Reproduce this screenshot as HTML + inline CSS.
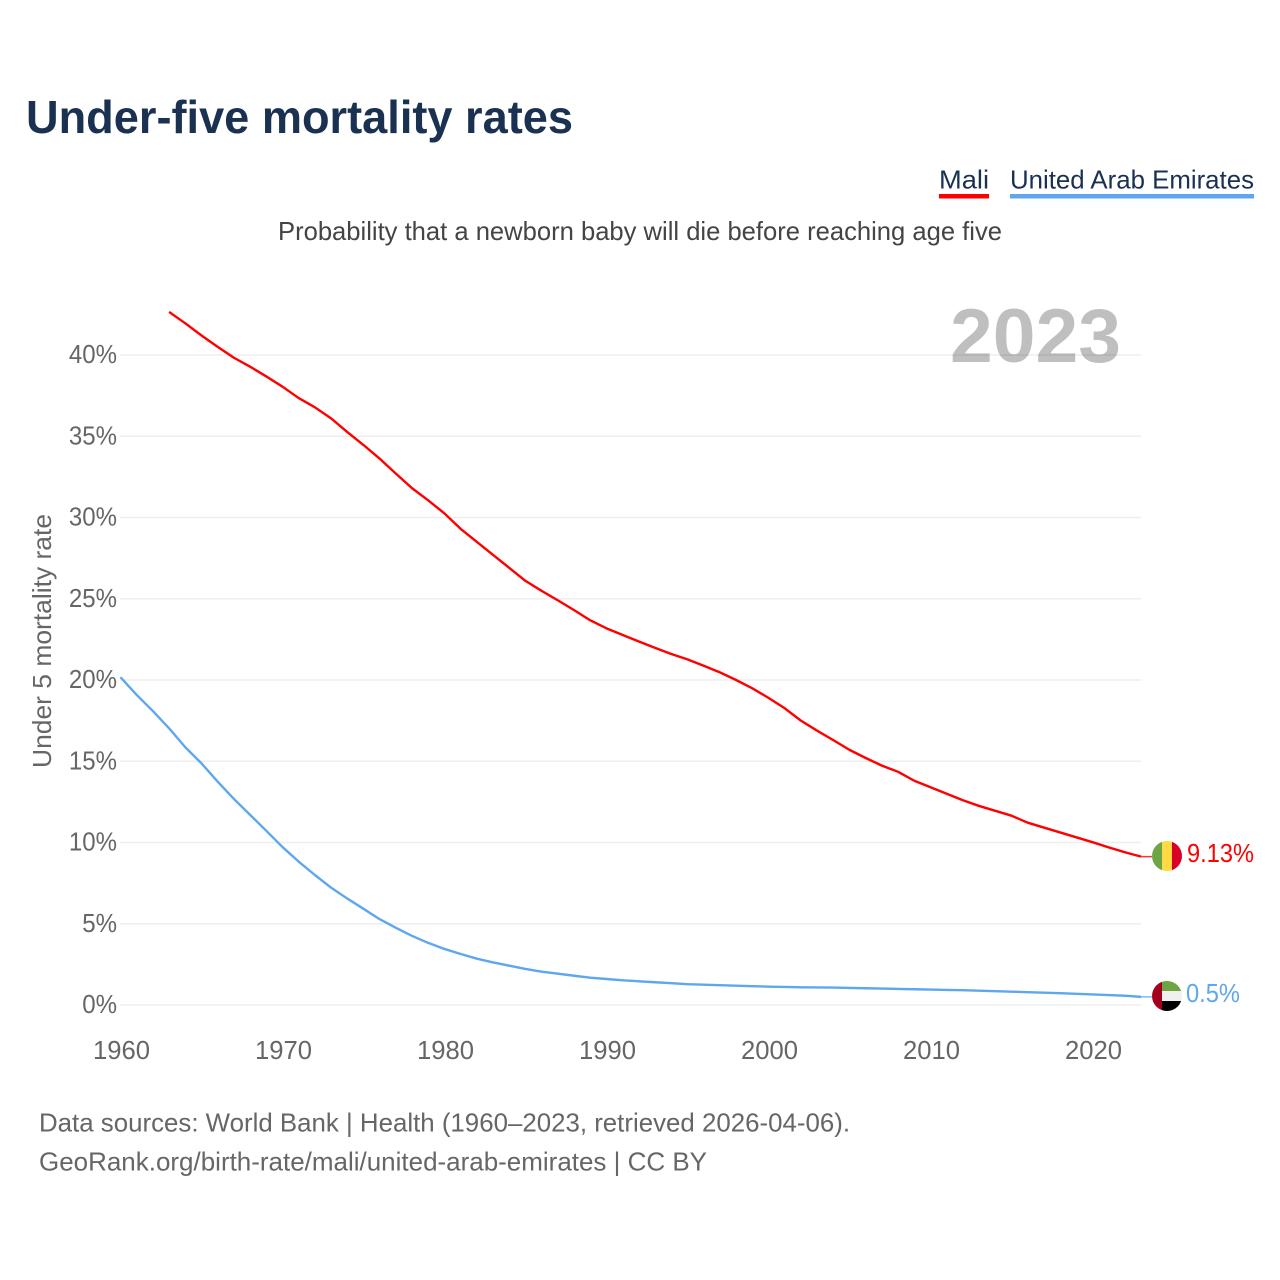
<!DOCTYPE html>
<html lang="en">
<head>
<meta charset="utf-8">
<title>Under-five mortality rates</title>
<style>
  html, body { margin: 0; padding: 0; background: #fff; }
  svg { display: block; }
  text { font-family: "Liberation Sans", sans-serif; }
</style>
</head>
<body>
<svg id="chart" xmlns="http://www.w3.org/2000/svg" width="1280" height="1280" viewBox="0 0 1280 1280">
  <rect width="1280" height="1280" fill="#ffffff"/>
  <text x="26" y="133" font-size="46" font-weight="700" fill="#1a3152" textLength="547" lengthAdjust="spacingAndGlyphs">Under-five mortality rates</text>
  <g>
    <text x="939" y="188.5" font-size="26" fill="#1a3152" textLength="50" lengthAdjust="spacingAndGlyphs">Mali</text>
    <rect x="939" y="194" width="50" height="4.5" fill="#ff0000"/>
  </g>
  <g>
    <text x="1010" y="188.5" font-size="26" fill="#1a3152" textLength="244" lengthAdjust="spacingAndGlyphs">United Arab Emirates</text>
    <rect x="1010" y="194" width="244" height="4.5" fill="#5ea7ee"/>
  </g>
  <text x="278" y="240" font-size="26" fill="#444444" textLength="724" lengthAdjust="spacingAndGlyphs">Probability that a newborn baby will die before reaching age five</text>

  <g id="grid"></g>
  <text x="950" y="362" font-size="76" font-weight="700" fill="#000000" fill-opacity="0.25" textLength="171" lengthAdjust="spacingAndGlyphs">2023</text>
  <g id="y-ticks"></g>
  <g id="x-ticks"></g>
  <text transform="translate(51 641) rotate(-90)" text-anchor="middle" font-size="26" fill="#666666" textLength="254" lengthAdjust="spacingAndGlyphs">Under 5 mortality rate</text>

  <g id="series"></g>

  <defs>
    <clipPath id="clip-mali"><circle cx="1167" cy="856" r="15"/></clipPath>
    <clipPath id="clip-uae"><circle cx="1167" cy="996" r="15"/></clipPath>
  </defs>
  <g clip-path="url(#clip-mali)">
    <rect x="1152" y="841" width="10" height="30" fill="#6da544"/>
    <rect x="1162" y="841" width="10" height="30" fill="#ffda44"/>
    <rect x="1172" y="841" width="10" height="30" fill="#d80027"/>
  </g>
  <g clip-path="url(#clip-uae)">
    <rect x="1152" y="981" width="10" height="30" fill="#a2001d"/>
    <rect x="1162" y="981" width="20" height="10" fill="#6da544"/>
    <rect x="1162" y="991" width="20" height="10" fill="#f0f0f0"/>
    <rect x="1162" y="1001" width="20" height="10" fill="#000000"/>
  </g>
  <text id="end-mali" x="1187" y="862" font-size="26" fill="#ff0000"></text>
  <text id="end-uae" x="1186" y="1002" font-size="26" fill="#5ea7ee"></text>

  <text x="39" y="1131.5" font-size="26" fill="#666666" textLength="811" lengthAdjust="spacingAndGlyphs">Data sources: World Bank | Health (1960–2023, retrieved 2026-04-06).</text>
  <text x="39" y="1170.5" font-size="26" fill="#666666" textLength="668" lengthAdjust="spacingAndGlyphs">GeoRank.org/birth-rate/mali/united-arab-emirates | CC BY</text>
</svg>

<script>
const yTickValues = [0, 5, 10, 15, 20, 25, 30, 35, 40];
const xTickYears = [1960, 1970, 1980, 1990, 2000, 2010, 2020];
const maliStartYear = 1963;
const maliValues = [
  42.65, 41.95, 41.2, 40.5, 39.83, 39.28, 38.68,
  38.05, 37.35, 36.78, 36.1, 35.26, 34.46, 33.62, 32.7, 31.8, 31.05,
  30.25, 29.3, 28.5, 27.7, 26.9, 26.1, 25.48, 24.9, 24.3, 23.67,
  23.18, 22.77, 22.37, 21.98, 21.6, 21.27, 20.88, 20.47, 20.0, 19.49,
  18.9, 18.26, 17.5, 16.88, 16.3, 15.7, 15.2, 14.73, 14.35, 13.8,
  13.4, 13.0, 12.6, 12.25, 11.95, 11.65, 11.22, 10.92, 10.62, 10.32,
  10.02, 9.7, 9.4, 9.13
];
const uaeStartYear = 1960;
const uaeValues = [
  20.17, 19.08, 18.09, 17.03, 15.86, 14.87, 13.74, 12.68, 11.7, 10.72,
  9.72, 8.82, 8.0, 7.22, 6.55, 5.92, 5.28, 4.75, 4.25, 3.82,
  3.45, 3.14, 2.85, 2.62, 2.42, 2.22, 2.05, 1.93, 1.8, 1.68,
  1.6, 1.52, 1.46, 1.4, 1.34, 1.28, 1.25, 1.22, 1.19, 1.16,
  1.13, 1.11, 1.09, 1.08, 1.07, 1.05, 1.03, 1.01, 0.99, 0.97,
  0.95, 0.93, 0.91, 0.88, 0.85, 0.82, 0.79, 0.76, 0.73, 0.69,
  0.65, 0.61, 0.57, 0.5
];

const NS = 'http://www.w3.org/2000/svg';
const xScale = year => 120.5 + (year - 1960) * 16.2;
const yScale = value => 1005 - value * 16.25;

function make(tag, attrs, parent) {
  const el = document.createElementNS(NS, tag);
  for (const key in attrs) el.setAttribute(key, attrs[key]);
  parent.appendChild(el);
  return el;
}

const gridGroup = document.getElementById('grid');
const yTickGroup = document.getElementById('y-ticks');
yTickValues.forEach(v => {
  const line = make('line', { x1: 120, x2: 1141, y1: yScale(v), y2: yScale(v), stroke: '#eeeeee', 'stroke-width': 1.5 }, gridGroup);
  
  
  const label = make('text', { x: 117, y: yScale(v) + 8, 'text-anchor': 'end', 'font-size': 26, fill: '#666666' }, yTickGroup);
  
  
  label.textContent = v + '%';
  label.setAttribute('textLength', (label.getComputedTextLength() * 0.925).toFixed(1));
  label.setAttribute('lengthAdjust', 'spacingAndGlyphs');
});

const xTickGroup = document.getElementById('x-ticks');
xTickYears.forEach(y => {
  const label = make('text', { x: xScale(y) + 1, y: 1059, 'text-anchor': 'middle', 'font-size': 26, fill: '#666666' }, xTickGroup);
  
  
  label.textContent = y;
  label.setAttribute('textLength', '57');
  label.setAttribute('lengthAdjust', 'spacingAndGlyphs');
});

const seriesGroup = document.getElementById('series');
function drawSeries(values, startYear, color) {
  const points = values.map((v, i) => xScale(startYear + i).toFixed(2) + ',' + yScale(v).toFixed(2));
  const lastY = yScale(values[values.length - 1]);
  const connector = make('line', { x1: xScale(startYear + values.length - 1), x2: 1152, y1: lastY, y2: lastY, stroke: color, 'stroke-width': 1.5, 'stroke-opacity': 0.8 }, seriesGroup);
  const path = make('polyline', { points: points.join(' '), fill: 'none', stroke: color, 'stroke-width': 2.4, 'stroke-linejoin': 'round' }, seriesGroup);
  return [path, connector];
}

const [maliLine, maliConnector] = drawSeries(maliValues, maliStartYear, '#ff0000');





const [uaeLine, uaeConnector] = drawSeries(uaeValues, uaeStartYear, '#5ea7ee');





const endMali = document.getElementById('end-mali');
endMali.textContent = maliValues[maliValues.length - 1] + '%';
endMali.setAttribute('textLength', '67');
endMali.setAttribute('lengthAdjust', 'spacingAndGlyphs');
const endUae = document.getElementById('end-uae');
endUae.textContent = uaeValues[uaeValues.length - 1] + '%';
endUae.setAttribute('textLength', '54');
endUae.setAttribute('lengthAdjust', 'spacingAndGlyphs');
</script>
</body>
</html>
